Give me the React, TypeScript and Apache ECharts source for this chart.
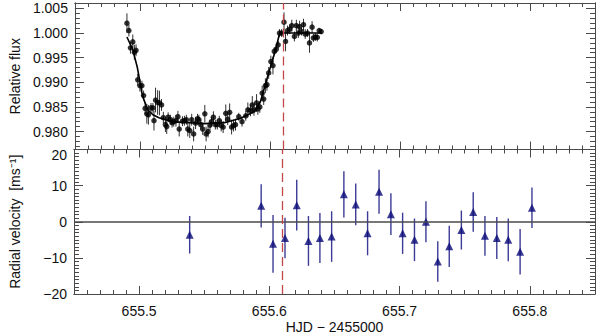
import React, { useEffect, useRef } from "react";
import * as echarts from "echarts";

// ---------- data ----------
const fluxTime = [
  655.49, 655.4915, 655.4927, 655.4945, 655.4957, 655.497, 655.4983, 655.5, 655.5015, 655.5028,
  655.504, 655.5053, 655.5065, 655.5085, 655.51, 655.5108, 655.512, 655.5136, 655.515, 655.5166,
  655.518, 655.5196, 655.5206, 655.5217, 655.5234, 655.5247, 655.526, 655.5277, 655.5292, 655.5302,
  655.5327, 655.5342, 655.5357, 655.5368, 655.5383, 655.5398, 655.5413, 655.5428, 655.5443, 655.5453,
  655.5468, 655.5483, 655.5499, 655.5509, 655.5524, 655.5539, 655.555, 655.5565, 655.558, 655.5595,
  655.561, 655.5625, 655.564, 655.566, 655.5675, 655.569, 655.5705, 655.572, 655.5735, 655.576,
  655.5785, 655.5814, 655.583, 655.585, 655.5864, 655.5877, 655.5897, 655.5907, 655.5922, 655.594,
  655.5952, 655.5965, 655.5977, 655.599, 655.6007, 655.6023, 655.6033, 655.6048, 655.6063, 655.6073,
  655.609, 655.6108, 655.612, 655.6135, 655.6153, 655.6168, 655.6188, 655.6203, 655.6218, 655.6228,
  655.6243, 655.6258, 655.6271, 655.6289, 655.6304, 655.6324, 655.6334, 655.6349, 655.6364, 655.6379,
  655.6394,
];
const fluxValue = [
  1.002, 1.0005, 0.997, 0.9982, 0.9961, 0.9965, 0.9905, 0.9893, 0.9893, 0.9873,
  0.9847, 0.9836, 0.9834, 0.9848, 0.9848, 0.9822, 0.9864, 0.9859, 0.9858, 0.9854,
  0.9828, 0.9814, 0.981, 0.9829, 0.9824, 0.9818, 0.982, 0.9822, 0.983, 0.9805,
  0.9821, 0.9822, 0.9824, 0.9805, 0.9802, 0.9824, 0.9795, 0.9817, 0.9826, 0.9824,
  0.9814, 0.9805, 0.9836, 0.9795, 0.98, 0.9813, 0.982, 0.9829, 0.9814, 0.9814,
  0.9822, 0.9812, 0.9809, 0.9837, 0.9825, 0.9839, 0.9809, 0.9812, 0.9814, 0.983,
  0.982, 0.9832, 0.9844, 0.9843, 0.9854, 0.9844, 0.9858, 0.9846, 0.985, 0.9878,
  0.9866, 0.9893, 0.9895, 0.9919, 0.9942, 0.9934, 0.9963, 0.9967, 0.9976, 1.0,
  1.0, 1.0022, 0.9983, 1.0005, 1.0008, 1.0015, 0.9993, 1.0015, 1.0, 1.0013,
  1.0003, 1.0017, 0.9998, 1.0, 0.998, 1.0012, 0.999, 0.9992, 0.9991, 1.0005,
  1.0003,
];
const fluxError = [
  0.002, 0.0012, 0.0012, 0.0015, 0.0015, 0.0012, 0.0012, 0.0012, 0.001, 0.001,
  0.0012, 0.002, 0.002, 0.001, 0.001, 0.002, 0.0025, 0.0025, 0.0025, 0.0012,
  0.0012, 0.0015, 0.0015, 0.001, 0.001, 0.001, 0.001, 0.0012, 0.0012, 0.0015,
  0.001, 0.001, 0.001, 0.0015, 0.0015, 0.0012, 0.0015, 0.0012, 0.001, 0.001,
  0.001, 0.0012, 0.0018, 0.0015, 0.0012, 0.001, 0.001, 0.0012, 0.001, 0.001,
  0.001, 0.0012, 0.0012, 0.0018, 0.0012, 0.0018, 0.0015, 0.0012, 0.0012, 0.0008,
  0.001, 0.001, 0.0015, 0.0012, 0.0018, 0.0012, 0.0018, 0.0012, 0.0012, 0.0015,
  0.0012, 0.0015, 0.0012, 0.0012, 0.0012, 0.0018, 0.0008, 0.0008, 0.0008, 0.0008,
  0.0008, 0.002, 0.002, 0.001, 0.001, 0.0012, 0.001, 0.0012, 0.001, 0.0012,
  0.0008, 0.0012, 0.001, 0.0008, 0.002, 0.0012, 0.0008, 0.0008, 0.0008, 0.0005,
  0.0005,
];

const modelTime = [
  655.49, 655.4945, 655.498, 655.502, 655.506, 655.51, 655.5146, 655.525, 655.55, 655.565,
  655.5775, 655.5877, 655.5927, 655.599, 655.604, 655.6075, 655.64,
];
const modelFlux = [
  0.9992, 0.9966, 0.993, 0.9872, 0.9844, 0.9834, 0.9828, 0.982, 0.9816, 0.9818,
  0.9827, 0.984, 0.9861, 0.9919, 0.9963, 1.0, 1.0,
];

const rvTime = [
  655.5388, 655.5937, 655.6028, 655.612, 655.621, 655.63, 655.6388, 655.6478, 655.6572, 655.6663,
  655.6754, 655.6842, 655.6933, 655.7023, 655.7114, 655.7202, 655.7293, 655.7381, 655.7474, 655.7565,
  655.7655, 655.7746, 655.7834, 655.7925, 655.8016,
];
const rvValue = [
  -3.6, 4.4, -6.1, -4.5, 4.6, -5.3, -4.5, -4.1, 7.6, 4.8,
  -3.2, 8.3, 2.1, -3.2, -5.0, 0.0, -11.0, -6.8, -2.3, 2.7,
  -3.9, -4.5, -5.0, -8.3, 3.9,
];
const rvError = [
  5.2, 6.0, 8.0, 5.6, 7.0, 6.9, 6.9, 7.0, 6.4, 5.8,
  6.1, 6.1, 5.8, 5.7, 5.9, 5.7, 5.6, 5.7, 5.4, 5.5,
  5.5, 5.8, 5.9, 6.3, 5.6,
];

const transitEnd = 655.6075;
const xRange = [655.45, 655.85];
const fluxRange = [0.97635, 1.0061];
const rvRange = [-20, 20];

// ---------- styles ----------
const FONT = "Liberation Sans";
const FRAME = "#4a4a4a";
const TEXT = "#111111";

function xAxisDef(gridIndex: number, position: string, major: boolean, labels: boolean) {
  return {
    type: "value",
    gridIndex,
    position,
    min: xRange[0],
    max: xRange[1],
    splitNumber: major ? 4 : 40,
    axisLine: { show: true, onZero: false, lineStyle: { color: FRAME, width: 1 } },
    axisTick: { show: true, inside: true, length: major ? 8 : 4, lineStyle: { color: FRAME, width: 1 } },
    axisLabel: {
      show: labels,
      showMinLabel: false,
      showMaxLabel: false,
      margin: 10,
      fontSize: 14,
      fontFamily: FONT,
      color: TEXT,
      formatter: (v: number) => v.toFixed(1),
    },
    splitLine: { show: false },
    name: labels ? "HJD \u2212 2455000" : "",
    nameLocation: "middle",
    nameGap: 26,
    nameTextStyle: { fontSize: 14, fontFamily: FONT, color: TEXT },
  };
}

function fluxAxisDef(position: string, major: boolean, labels: boolean) {
  return {
    type: "value",
    gridIndex: 0,
    position,
    min: fluxRange[0],
    max: fluxRange[1],
    splitNumber: major ? 6 : 30,
    axisLine: { show: true, onZero: false, lineStyle: { color: FRAME, width: 1 } },
    axisTick: { show: true, inside: true, length: major ? 9 : 5, lineStyle: { color: FRAME, width: 1 } },
    axisLabel: {
      show: labels,
      showMinLabel: false,
      showMaxLabel: false,
      margin: 7,
      fontSize: 14,
      fontFamily: FONT,
      color: TEXT,
      formatter: (v: number) => v.toFixed(3),
    },
    splitLine: { show: false },
    name: labels ? "Relative flux" : "",
    nameLocation: "middle",
    nameGap: 52,
    nameTextStyle: { fontSize: 14, fontFamily: FONT, color: TEXT },
  };
}

function rvAxisDef(position: string, labels: boolean) {
  return {
    type: "value",
    gridIndex: 1,
    position,
    min: rvRange[0],
    max: rvRange[1],
    interval: 10,
    axisLine: { show: true, onZero: false, lineStyle: { color: FRAME, width: 1 } },
    axisTick: { show: true, inside: true, length: 9, lineStyle: { color: FRAME, width: 1 } },
    minorTick: { show: true, splitNumber: 10, length: 5, lineStyle: { color: FRAME, width: 1 } },
    axisLabel: {
      show: labels,
      margin: 7,
      fontSize: 14,
      fontFamily: FONT,
      color: TEXT,
      formatter: (v: number) =>
        v === rvRange[1] ? "{top|" + String(v) + "}" : String(v).replace("-", "\u2212"),
      rich: {
        top: { fontSize: 14, fontFamily: FONT, color: TEXT, padding: [10, 0, 0, 0] },
      },
    },
    splitLine: { show: false },
    minorSplitLine: { show: false },
    name: labels ? "Radial velocity  [ms\u207B\u00B9]" : "",
    nameLocation: "middle",
    nameGap: 52,
    nameTextStyle: { fontSize: 14, fontFamily: FONT, color: TEXT },
  };
}

function errorBarRender(color: string, width: number) {
  return (params: any, api: any) => {
    const x = api.value(0);
    const y = api.value(1);
    const e = api.value(2);
    const p1 = api.coord([x, y + e]);
    const p2 = api.coord([x, y - e]);
    return {
      type: "line",
      shape: { x1: p1[0], y1: p1[1], x2: p2[0], y2: p2[1] },
      style: { stroke: color, lineWidth: width },
    };
  };
}

export default function App() {
  const ref = useRef<HTMLDivElement>(null);

  useEffect(() => {
    if (!ref.current) return;
    const chart = echarts.init(ref.current, undefined, { renderer: "svg" });

    const fluxData = fluxTime.map((t, i) => [t, fluxValue[i], fluxError[i]]);
    const modelData = modelTime.map((t, i) => [t, modelFlux[i]]);
    const rvData = rvTime.map((t, i) => [t, rvValue[i], rvError[i]]);

    const dashed = {
      silent: true,
      symbol: ["none", "none"],
      label: { show: false },
      lineStyle: { color: "#c04848", type: [9, 5], width: 1.3 },
      data: [{ xAxis: transitEnd }],
    };

    chart.setOption({
      animation: false,
      backgroundColor: "#ffffff",
      grid: [
        { left: 69, right: 5, top: 3, height: 146.5 },
        { left: 69, right: 5, top: 149.5, height: 145 },
      ],
      xAxis: [
        xAxisDef(0, "bottom", true, false),
        xAxisDef(0, "bottom", false, false),
        xAxisDef(0, "top", true, false),
        xAxisDef(0, "top", false, false),
        xAxisDef(1, "bottom", true, true),
        xAxisDef(1, "bottom", false, false),
        xAxisDef(1, "top", true, false),
        xAxisDef(1, "top", false, false),
      ],
      yAxis: [
        fluxAxisDef("left", true, true),
        fluxAxisDef("left", false, false),
        fluxAxisDef("right", true, false),
        fluxAxisDef("right", false, false),
        rvAxisDef("left", true),
        rvAxisDef("right", false),
      ],
      series: [
        {
          type: "custom",
          xAxisIndex: 0,
          yAxisIndex: 0,
          renderItem: errorBarRender("#303030", 1),
          data: fluxData,
          encode: { x: 0, y: 1 },
          z: 2,
        },
        {
          type: "line",
          xAxisIndex: 0,
          yAxisIndex: 0,
          data: modelData,
          showSymbol: false,
          symbol: "none",
          lineStyle: { color: "#000000", width: 1.6 },
          z: 3,
          markLine: dashed,
        },
        {
          type: "scatter",
          xAxisIndex: 0,
          yAxisIndex: 0,
          data: fluxData,
          symbol: "circle",
          symbolSize: 5.5,
          itemStyle: { color: "#000000" },
          z: 4,
        },
        {
          type: "custom",
          xAxisIndex: 4,
          yAxisIndex: 4,
          renderItem: errorBarRender("#3c3c96", 1.4),
          data: rvData,
          encode: { x: 0, y: 1 },
          z: 2,
        },
        {
          type: "scatter",
          xAxisIndex: 4,
          yAxisIndex: 4,
          data: rvData,
          symbol: "triangle",
          symbolSize: 8,
          itemStyle: { color: "#0a0a78" },
          z: 4,
          markLine: {
            silent: true,
            symbol: ["none", "none"],
            label: { show: false },
            lineStyle: { color: "#4a4a4a", type: "solid", width: 1.6 },
            data: [{ yAxis: 0 }],
          },
        },
        {
          type: "line",
          xAxisIndex: 4,
          yAxisIndex: 4,
          data: [],
          markLine: dashed,
        },
      ],
    });

    return () => chart.dispose();
  }, []);

  return (
    <div
      ref={ref}
      style={{ position: "absolute", left: 0, top: 0, width: 600, height: 335, background: "#fff" }}
    />
  );
}
